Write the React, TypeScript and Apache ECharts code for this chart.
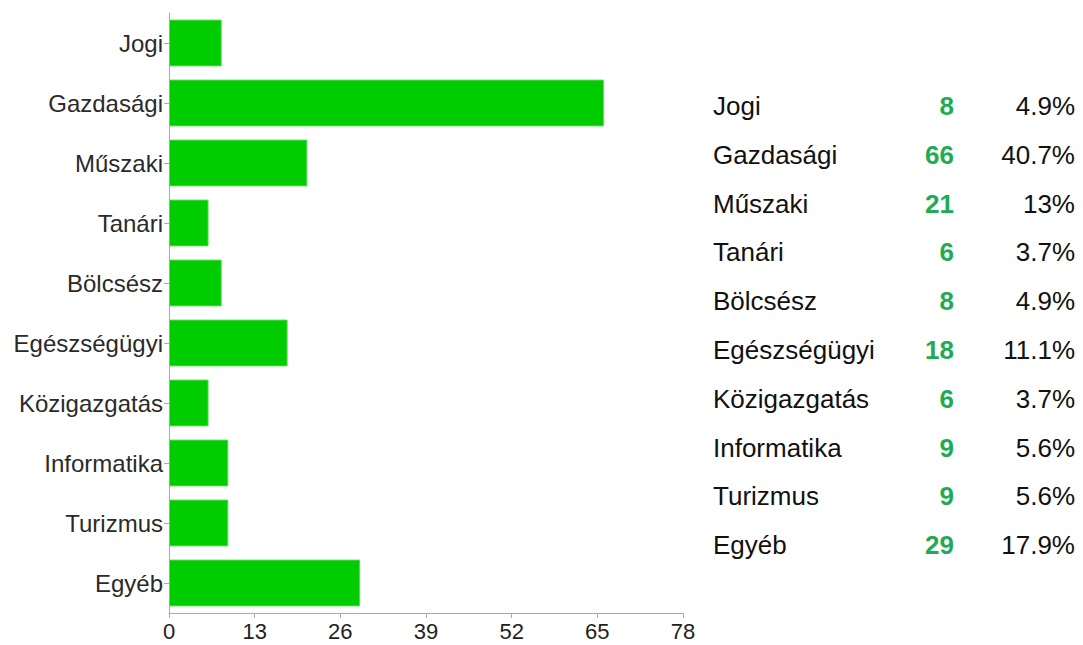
import React, { useEffect, useRef } from "react";
import * as echarts from "echarts";

const categories = ["Jogi", "Gazdasági", "Műszaki", "Tanári", "Bölcsész", "Egészségügyi", "Közigazgatás", "Informatika", "Turizmus", "Egyéb"];
const counts = [8, 66, 21, 6, 8, 18, 6, 9, 9, 29];
const percents = ["4.9%", "40.7%", "13%", "3.7%", "4.9%", "11.1%", "3.7%", "5.6%", "5.6%", "17.9%"];
const xTicks = { min: 0, max: 78, interval: 13 };

export default function App() {
  const ref = useRef<HTMLDivElement>(null);
  useEffect(() => {
    if (!ref.current) return;
    const chart = echarts.init(ref.current, null, { renderer: "svg" });
    const font = "'Liberation Sans', Arial, Helvetica, sans-serif";
    const rowTop = 106;
    const rowStep = 48.8;
    const graphics: any[] = [];
    categories.forEach((c, i) => {
      const y = rowTop + i * rowStep;
      graphics.push({
        type: "text", x: 713, y,
        style: { text: c, font: `26px ${font}`, fill: "#111", align: "left", verticalAlign: "middle" },
      });
      graphics.push({
        type: "text", x: 954, y,
        style: { text: String(counts[i]), font: `bold 26px ${font}`, fill: "#1fab54", align: "right", verticalAlign: "middle" },
      });
      graphics.push({
        type: "text", x: 1075, y,
        style: { text: percents[i], font: `26px ${font}`, fill: "#111", align: "right", verticalAlign: "middle" },
      });
    });
    chart.setOption({
      animation: false,
      backgroundColor: "#fff",
      grid: { left: 169, top: 13, width: 514, bottom: 32, containLabel: false },
      xAxis: {
        type: "value",
        min: xTicks.min, max: xTicks.max, interval: xTicks.interval,
        axisLine: { show: true, lineStyle: { color: "#aaa", width: 1 } },
        axisTick: { show: true, length: 5, lineStyle: { color: "#aaa" } },
        splitLine: { show: false },
        axisLabel: { color: "#222", fontSize: 22, fontFamily: font, margin: 7 },
      },
      yAxis: {
        type: "category",
        data: categories,
        inverse: true,
        axisLine: { show: true, lineStyle: { color: "#aaa", width: 1 } },
        axisTick: { show: true, length: 5, alignWithLabel: true, lineStyle: { color: "#aaa" } },
        axisLabel: { color: "#2a2a2a", fontSize: 24, fontFamily: font, margin: 6 },
      },
      series: [{
        type: "bar",
        data: counts,
        barCategoryGap: "22%",
        itemStyle: { color: "#00cc00", borderColor: "#5ad85a", borderWidth: 1 },
      }],
      graphic: graphics,
    });
    return () => chart.dispose();
  }, []);
  return <div ref={ref} style={{ position: "fixed", left: 0, top: 0, width: 1083, height: 645 }} />;
}
